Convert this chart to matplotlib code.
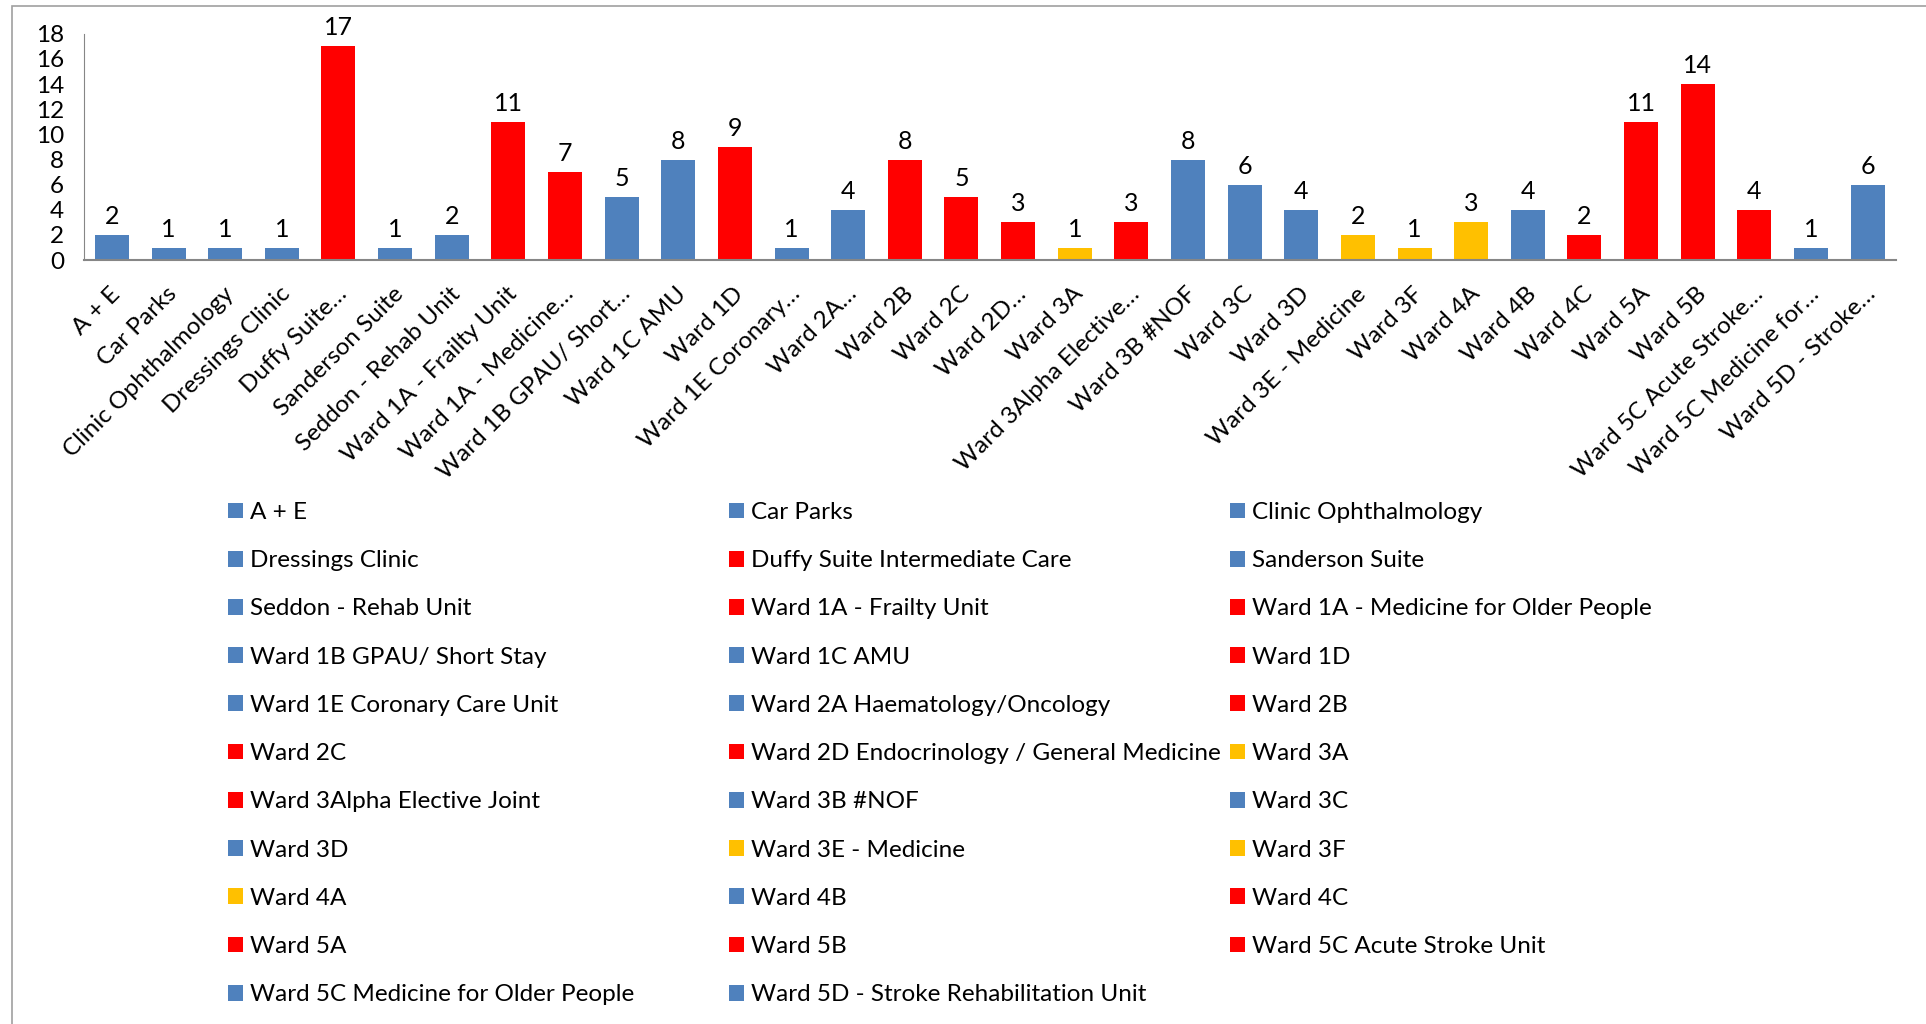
import numpy as np
import matplotlib
matplotlib.use('Agg')
import matplotlib.pyplot as plt
import matplotlib.transforms as mtransforms
from matplotlib.patches import Patch, Rectangle

plt.rcParams['font.family'] = ['Lato', 'DejaVu Sans']

# full ward names (legend) and the shortened axis labels
wards = ['A + E', 'Car Parks', 'Clinic Ophthalmology', 'Dressings Clinic',
         'Duffy Suite Intermediate Care', 'Sanderson Suite', 'Seddon - Rehab Unit',
         'Ward 1A - Frailty Unit', 'Ward 1A - Medicine for Older People',
         'Ward 1B GPAU/ Short Stay', 'Ward 1C AMU', 'Ward 1D',
         'Ward 1E Coronary Care Unit', 'Ward 2A Haematology/Oncology', 'Ward 2B',
         'Ward 2C', 'Ward 2D Endocrinology / General Medicine', 'Ward 3A',
         'Ward 3Alpha Elective Joint', 'Ward 3B #NOF', 'Ward 3C', 'Ward 3D',
         'Ward 3E - Medicine', 'Ward 3F', 'Ward 4A', 'Ward 4B', 'Ward 4C',
         'Ward 5A', 'Ward 5B', 'Ward 5C Acute Stroke Unit',
         'Ward 5C Medicine for Older People', 'Ward 5D - Stroke Rehabilitation Unit']
tick_labels = ['A + E', 'Car Parks', 'Clinic Ophthalmology', 'Dressings Clinic',
               'Duffy Suite…', 'Sanderson Suite', 'Seddon - Rehab Unit',
               'Ward 1A - Frailty Unit', 'Ward 1A - Medicine…',
               'Ward 1B GPAU/ Short…', 'Ward 1C AMU', 'Ward 1D',
               'Ward 1E Coronary…', 'Ward 2A…', 'Ward 2B',
               'Ward 2C', 'Ward 2D…', 'Ward 3A',
               'Ward 3Alpha Elective…', 'Ward 3B #NOF', 'Ward 3C', 'Ward 3D',
               'Ward 3E - Medicine', 'Ward 3F', 'Ward 4A', 'Ward 4B', 'Ward 4C',
               'Ward 5A', 'Ward 5B', 'Ward 5C Acute Stroke…',
               'Ward 5C Medicine for…', 'Ward 5D - Stroke…']
counts = [2, 1, 1, 1, 17, 1, 2, 11, 7, 5, 8, 9, 1, 4, 8, 5, 3, 1, 3, 8, 6, 4,
          2, 1, 3, 4, 2, 11, 14, 4, 1, 6]
rag = ['b', 'b', 'b', 'b', 'r', 'b', 'b', 'r', 'r', 'b', 'b', 'r', 'b', 'b', 'r',
       'r', 'r', 'a', 'r', 'b', 'b', 'b', 'a', 'a', 'a', 'b', 'r', 'r', 'r', 'r',
       'b', 'b']

palette = {'b': '#4F81BD', 'r': '#FF0000', 'a': '#FFC000'}
colors = [palette[c] for c in rag]

fig = plt.figure(figsize=(19.26, 10.24), dpi=100)
ax = fig.add_axes([0.0434, 0.746, 0.941, 0.221])

x = np.arange(len(counts))
bars = ax.bar(x, counts, width=0.6, color=colors)
for xi, v in zip(x, counts):
    ax.annotate(str(v), (xi, v), xytext=(0, 5), textcoords='offset points',
                ha='center', va='bottom', fontsize=18)

ax.set_xlim(-0.5, len(counts) - 0.5)
ax.set_ylim(0, 18)
ax.set_yticks(range(0, 19, 2))
ax.tick_params(axis='y', length=0, labelsize=17.5, pad=14)
ax.tick_params(axis='x', length=0, pad=22)
ax.set_xticks(x)
ax.set_xticklabels(tick_labels, rotation=45, ha='right', va='center',
                   rotation_mode='anchor', fontsize=17.5)
# nudge the slanted labels a little to the right, like Excel does
shift = mtransforms.ScaledTranslation(0.05, 0, fig.dpi_scale_trans)
for lab in ax.get_xticklabels():
    lab.set_transform(lab.get_transform() + shift)
for s in ['top', 'right']:
    ax.spines[s].set_visible(False)
ax.spines['left'].set_color('#868686')
ax.spines['bottom'].set_color('#868686')
ax.spines['bottom'].set_linewidth(1.5)

# chart frame
fig.patches.append(Rectangle((12 / 1926, -0.1), 1.1, 1 - 6 / 1024 + 0.1,
                             transform=fig.transFigure, fill=False,
                             edgecolor='#A0A0A0', linewidth=1.2))

# legend laid out row by row in three columns
handles = [Patch(facecolor=c, label=w) for c, w in zip(colors, wards)]
col_x = [228 / 1926, 729 / 1926, 1230 / 1926]
for c in range(3):
    hs = handles[c::3]
    fig.legend(handles=hs, loc='upper left', bbox_to_anchor=(col_x[c], 1 - 502 / 1024),
               frameon=False, fontsize=17.5, ncol=1, borderpad=0, borderaxespad=0,
               handlelength=0.62, handleheight=0.62, handletextpad=0.3,
               labelspacing=1.12)

fig.savefig('out.png', dpi=100)
